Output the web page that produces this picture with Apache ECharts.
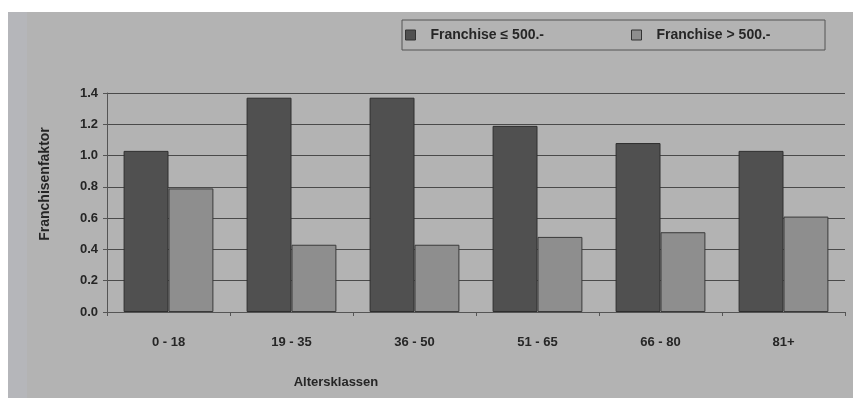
<!DOCTYPE html>
<html>
<head>
<meta charset="utf-8">
<script src="https://cdn.jsdelivr.net/npm/echarts@6/dist/echarts.min.js"></script>
<style>
  html, body { margin: 0; padding: 0; background: #fff; }
  #main { width: 853px; height: 401px; }
</style>
</head>
<body>
<div id="main"></div>
<script>
// Daten
var categories = ['0 - 18', '19 - 35', '36 - 50', '51 - 65', '66 - 80', '81+'];
var lowFranchise = [1.03, 1.37, 1.37, 1.19, 1.08, 1.03];
var highFranchise = [0.79, 0.43, 0.43, 0.48, 0.51, 0.61];
var seriesNames = ['Franchise \u2264 500.-', 'Franchise > 500.-'];

var myChart = echarts.init(document.getElementById('main'));
var font = 'Liberation Sans';
var txt = '#262626';

function legendAt(name, left, color) {
    return {
        data: [name],
        left: left,
        top: 28,
        icon: 'rect',
        itemWidth: 10,
        itemHeight: 10,
        padding: 0,
        itemStyle: {borderColor: '#333', borderWidth: 1},
        textStyle: {fontFamily: font, fontWeight: 'bold', fontSize: 14, color: txt, padding: [0, 0, 0, 10]}
    };
}

var option = {
    animation: false,
    textStyle: {fontFamily: font},
    graphic: [
        {type: 'rect', z: -10, shape: {x: 8, y: 12, width: 845, height: 386}, style: {fill: '#b3b3b3'}},
        {type: 'rect', z: -9, shape: {x: 8, y: 12, width: 19, height: 386}, style: {fill: '#b5b6ba'}},
        {type: 'rect', z: -5, shape: {x: 402, y: 20, width: 423, height: 30},
            style: {fill: 'none', stroke: '#555', lineWidth: 1}},
        {type: 'text', x: 336, y: 382,
            style: {text: 'Altersklassen', font: 'bold 13px ' + font, fill: txt, align: 'center', verticalAlign: 'middle'}},
        {type: 'text', x: 45, y: 184, rotation: Math.PI / 2,
            style: {text: 'Franchisenfaktor', font: 'bold 14px ' + font, fill: txt, align: 'center', verticalAlign: 'middle'}}
    ],
    legend: [legendAt(seriesNames[0], 405), legendAt(seriesNames[1], 631)],
    grid: {left: 107, right: 8, top: 93, bottom: 89, containLabel: false},
    xAxis: {
        type: 'category',
        data: categories,
        axisLine: {lineStyle: {color: '#555'}},
        axisTick: {show: true, length: 4, lineStyle: {color: '#555'}},
        axisLabel: {margin: 24, fontWeight: 'bold', fontSize: 13, color: txt}
    },
    yAxis: {
        type: 'value',
        min: 0,
        max: 1.4,
        interval: 0.2,
        axisLine: {show: true, lineStyle: {color: '#555'}},
        axisTick: {show: true, length: 4, lineStyle: {color: '#555'}},
        axisLabel: {
            margin: 9, fontWeight: 'bold', fontSize: 13, color: txt,
            formatter: function (v) { return v.toFixed(1); }
        },
        splitLine: {show: true, lineStyle: {color: '#4a4a4a', width: 1}}
    },
    series: [
        {
            name: seriesNames[0],
            type: 'bar',
            data: lowFranchise,
            barGap: '0%',
            barCategoryGap: '27%',
            itemStyle: {color: '#505050', borderColor: '#2e2e2e', borderWidth: 1}
        },
        {
            name: seriesNames[1],
            type: 'bar',
            data: highFranchise,
            itemStyle: {color: '#8e8e8e', borderColor: '#3a3a3a', borderWidth: 1}
        }
    ]
};
myChart.setOption(option);
</script>
</body>
</html>
